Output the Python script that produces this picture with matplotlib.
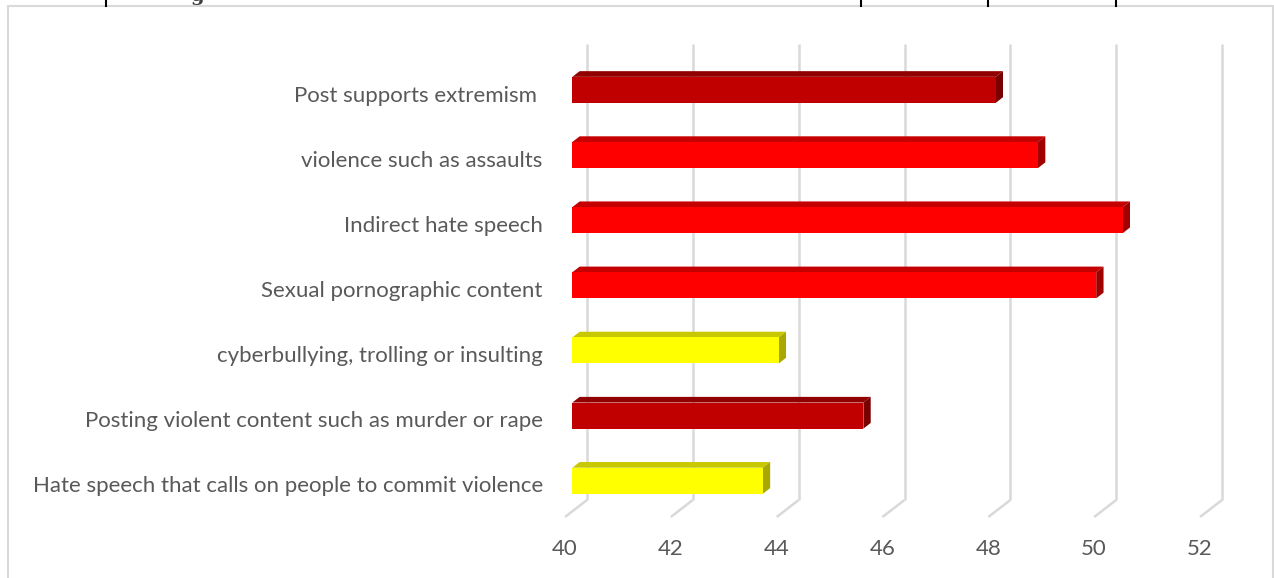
import matplotlib
matplotlib.use('Agg')
import matplotlib.pyplot as plt
from matplotlib.patches import Polygon, Rectangle
from matplotlib.lines import Line2D

# chart data (top to bottom as shown)
categories = ['Post supports extremism ',
              'violence such as assaults',
              'Indirect hate speech',
              'Sexual pornographic content',
              'cyberbullying, trolling or insulting',
              'Posting violent content such as murder or rape',
              'Hate speech that calls on people to commit violence']
values = [48.0, 48.8, 50.4, 49.9, 43.9, 45.5, 43.6]
bar_colors = ['darkred', 'red', 'red', 'red', 'yellow', 'darkred', 'yellow']
x_ticks = [40, 42, 44, 46, 48, 50, 52]

# front / top / side shades for the 3d look
shades = {
    'darkred': ('#C00000', '#900000', '#7A0000'),
    'red': ('#FF0000', '#C40000', '#A00000'),
    'yellow': ('#FFFF00', '#C8C800', '#A8A800'),
}

W, H = 1274, 578
fig = plt.figure(figsize=(W / 100, H / 100), dpi=100)
plt.rcParams['font.family'] = ['Lato', 'DejaVu Sans']

# axes = front plane of the 3d box
ax = fig.add_axes([565 / W, (H - 517) / H, 635 / W, 456 / H])
ax.set_xlim(x_ticks[0], x_ticks[-1])
ax.set_ylim(len(categories) - 0.5, -0.5)
for s in ax.spines.values():
    s.set_visible(False)

# depth of the box in data units (22 px right, 17 px up)
dx = 22 / (635 / (x_ticks[-1] - x_ticks[0]))
dy = 17 / (456 / len(categories))

grid_c = '#D9D9D9'
ybot = len(categories) - 0.5
ytop = -0.5
for v in x_ticks:
    ax.plot([v + dx, v + dx], [ytop - dy, ybot - dy], color=grid_c, lw=1.8,
            solid_capstyle='butt', clip_on=False, zorder=1)
    ax.plot([v + dx, v], [ybot - dy, ybot], color=grid_c, lw=1.8,
            solid_capstyle='butt', clip_on=False, zorder=1)

bh = 0.4
f0, f1 = 1 / 3, 2 / 3
for i, (v, c) in enumerate(zip(values, bar_colors)):
    front, top, side = shades[c]
    x0 = x_ticks[0] + dx * f0
    x1 = v + dx * f0
    yt = i - bh / 2 - dy * f0 + 0.03
    yb = i + bh / 2 - dy * f0 + 0.03
    ddx = dx * (f1 - f0)
    ddy = dy * (f1 - f0)
    ax.add_patch(Polygon([(x0, yt), (x1, yt), (x1 + ddx, yt - ddy), (x0 + ddx, yt - ddy)],
                         closed=True, fc=top, ec='none', zorder=3, clip_on=False))
    ax.add_patch(Polygon([(x1, yt), (x1 + ddx, yt - ddy), (x1 + ddx, yb - ddy), (x1, yb)],
                         closed=True, fc=side, ec='none', zorder=3, clip_on=False))
    ax.add_patch(Rectangle((x0, yt), x1 - x0, yb - yt, fc=front, ec='none',
                           zorder=4, clip_on=False))

ax.set_xticks(x_ticks)
ax.set_xticklabels([str(t) for t in x_ticks])
ax.set_yticks(range(len(categories)))
ax.set_yticklabels(categories)
ax.tick_params(axis='x', length=0, pad=16, labelsize=16, labelcolor='#595959')
ax.tick_params(axis='y', length=0, pad=16, labelsize=16, labelcolor='#595959')

# chart frame and bits of the page table above it
fig.add_artist(Rectangle((7.5 / W, -0.1), (W - 9) / W, 1.1 - 6.5 / H,
                         transform=fig.transFigure, fill=False, ec='#D9D9D9', lw=1.5))
for xp in [106, 861, 988, 1116]:
    fig.add_artist(Line2D([xp / W, xp / W], [1, 1 - 6 / H], transform=fig.transFigure,
                          color='black', lw=1.5))
fig.text(197 / W, 1 - 1 / H, 'g', family='DejaVu Serif', weight='bold', fontsize=14,
         color='#404040', ha='center', va='baseline')

fig.savefig('out.png', dpi=100)
